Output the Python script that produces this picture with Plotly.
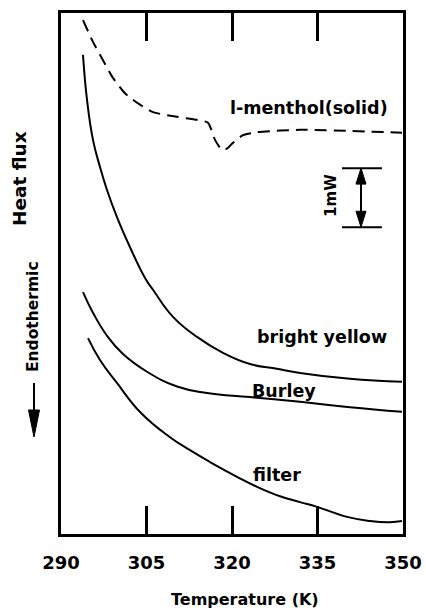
import plotly.graph_objects as go

# Temperature (K) and heat flux (mW, arbitrary offset)
menthol_T = [293.86, 295.61, 297.37, 299.12, 301.23, 303.33, 306.14, 310.35, 313.86, 315.79, 317.02, 318.25, 319.12, 320.18, 321.93, 324.39, 331.93, 349.82]
menthol_q = [8.71, 8.34, 8.03, 7.73, 7.47, 7.31, 7.15, 7.07, 7.02, 6.97, 6.68, 6.51, 6.53, 6.63, 6.76, 6.81, 6.85, 6.80]

yellow_T = [293.86, 294.56, 295.61, 296.84, 298.07, 299.82, 302.11, 304.74, 306.14, 309.65, 313.86, 318.42, 323.16, 327.89, 331.93, 340.70, 349.82]
yellow_q = [8.12, 7.36, 6.68, 6.22, 5.83, 5.37, 4.86, 4.34, 4.14, 3.68, 3.34, 3.07, 2.88, 2.80, 2.73, 2.63, 2.58]

burley_T = [293.86, 295.61, 298.07, 300.88, 305.09, 310.35, 315.61, 323.16, 331.93, 340.70, 349.82]
burley_q = [4.10, 3.75, 3.36, 3.05, 2.75, 2.50, 2.39, 2.32, 2.24, 2.15, 2.07]

filter_T = [294.74, 296.84, 299.82, 304.04, 309.12, 312.63, 316.14, 320.88, 324.39, 328.42, 331.93, 334.91, 340.18, 344.21, 347.72, 349.82]
filter_q = [3.32, 2.95, 2.56, 2.05, 1.64, 1.42, 1.22, 0.97, 0.80, 0.64, 0.54, 0.46, 0.29, 0.22, 0.20, 0.22]

tick_vals = [290, 305, 320, 335, 350]
tick_text = ["290", "305", "320", "335", "350"]

FONT = "DejaVu Sans"
BLACK = "black"
fig = go.Figure()
fig.add_trace(go.Scatter(x=menthol_T, y=menthol_q, mode="lines",
                         line=dict(color=BLACK, width=2, dash="12px,7px", shape="spline", smoothing=0.6)))
for T, q in [(yellow_T, yellow_q), (burley_T, burley_q), (filter_T, filter_q)]:
    fig.add_trace(go.Scatter(x=T, y=q, mode="lines", line=dict(color=BLACK, width=2, shape="spline", smoothing=1.3)))


def f(size):
    return dict(family=FONT, size=size, color=BLACK, weight="bold")


def ann(text, x, y, size, ref="data", angle=0):
    d = dict(x=x, y=y, text=text, showarrow=False, font=f(size), textangle=angle,
             xanchor="center", yanchor="middle")
    if ref == "paper":
        d.update(xref="paper", yref="paper")
    return d


labels = [("l-menthol(solid)", 333.51, 7.22), ("bright yellow", 335.79, 3.34), ("Burley", 329.12, 2.42), ("filter", 327.89, 1.00)]
anns = [ann(t, x, y, 17.5) for t, x, y in labels]
anns.append(ann("1mW", 337.37, 5.73, 15, angle=-90))
anns.append(ann("Heat flux", (20 - 61) / 342, (534 - 179) / 521, 18.5, ref="paper", angle=-90))
anns.append(ann("Endothermic", (33 - 61) / 342, (534 - 317) / 521, 15.5, ref="paper", angle=-90))
anns.append(ann("Temperature (K)", (245 - 61) / 342, (534 - 599) / 521, 16, ref="paper"))

shapes = []
# 1 mW scale bar
for yy in [6.20, 5.20]:
    shapes.append(dict(type="line", x0=339.3, x1=346.3, y0=yy, y1=yy, line=dict(color=BLACK, width=2)))
shapes.append(dict(type="line", x0=342.63, x1=342.63, y0=5.30, y1=6.10, line=dict(color=BLACK, width=2)))
shapes.append(dict(type="path", path="M 342.63 6.20 L 341.75 5.93 L 343.51 5.93 Z", fillcolor=BLACK, line=dict(color=BLACK, width=1)))
shapes.append(dict(type="path", path="M 342.63 5.20 L 341.75 5.47 L 343.51 5.47 Z", fillcolor=BLACK, line=dict(color=BLACK, width=1)))
# endothermic arrow (paper coords)
ax = (34 - 61) / 342
shapes.append(dict(type="line", xref="paper", yref="paper", x0=ax, x1=ax, y0=(534 - 383) / 521,
                   y1=(534 - 415) / 521, line=dict(color=BLACK, width=2)))
hw = 5.5 / 342
shapes.append(dict(type="path", xref="paper", yref="paper",
                   path="M %f %f L %f %f L %f %f Z" % (ax - hw, (534 - 410) / 521, ax + hw, (534 - 410) / 521, ax, (534 - 437) / 521),
                   fillcolor=BLACK, line=dict(color=BLACK, width=1)))

fig.update_layout(
    width=426, height=610, margin=dict(l=61, r=23, t=13, b=76, autoexpand=False),
    paper_bgcolor="white", plot_bgcolor="white", showlegend=False,
    annotations=anns, shapes=shapes,
    xaxis=dict(range=[290, 350], tickvals=tick_vals, ticktext=tick_text, ticks="inside", ticklen=28, tickwidth=2.5,
               tickcolor=BLACK, showline=True, linewidth=3, linecolor=BLACK, mirror="ticks", showgrid=False,
               zeroline=False, tickfont=f(18), ticklabelstandoff=10, automargin=False),
    yaxis=dict(range=[0, 8.83], showticklabels=False, ticks="", showline=True, linewidth=3, linecolor=BLACK,
               mirror=True, showgrid=False, zeroline=False, automargin=False),
)
fig.write_html("out.html", config={"displayModeBar": False}, post_script="document.body.style.margin='0';")
